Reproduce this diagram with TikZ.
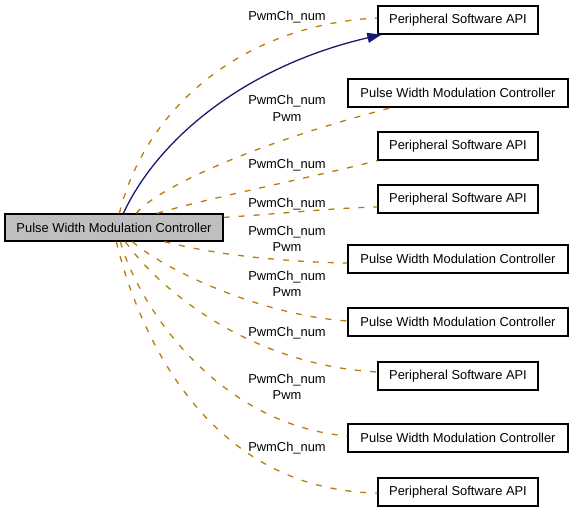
\documentclass[tikz,border=0pt]{standalone}
\usepackage{fontspec}
\setmainfont{Liberation Sans}
\usetikzlibrary{calc,arrows.meta}
\definecolor{edgeorange}{HTML}{B87E08}
\definecolor{edgeblue}{HTML}{191970}
\definecolor{boxgray}{HTML}{BFBFBF}
\begin{document}
\begin{tikzpicture}[x=1pt,y=-1pt,
  every node/.style={font=\fontsize{12.9}{16.7}\selectfont, inner sep=0pt},
  mod/.style={draw=black, line width=1.3pt, fill=white, minimum height=28pt},
  api/.style={mod, minimum width=160pt},
  pwmbox/.style={mod, minimum width=220pt},
  cur/.style={mod, fill=boxgray, minimum width=218pt, minimum height=27pt},
  dep/.style={draw=edgeorange, line width=1.3pt, dash pattern=on 6pt off 9pt},
  use/.style={draw=edgeblue, line width=1.3pt, -{Triangle[length=14pt,width=10pt]}},
  lbl/.style={anchor=base, align=center}]
\useasboundingbox (0,0) rectangle (573,512);

% modules
\node[cur] (main) at (114,227.5) {Pulse Width Modulation Controller};
\node[api]    (m1) at (458,20)  {Peripheral Software API};
\node[pwmbox] (m2) at (458,93)  {Pulse Width Modulation Controller};
\node[api]    (m3) at (458,146) {Peripheral Software API};
\node[api]    (m4) at (458,199) {Peripheral Software API};
\node[pwmbox] (m5) at (458,259) {Pulse Width Modulation Controller};
\node[pwmbox] (m6) at (458,322) {Pulse Width Modulation Controller};
\node[api]    (m7) at (458,376) {Peripheral Software API};
\node[pwmbox] (m8) at (458,438) {Pulse Width Modulation Controller};
\node[api]    (m9) at (458,492) {Peripheral Software API};

% dependency edges
\draw[dep] ($(main.north west)+(115,0)$) .. controls (145,110) and (240,25) .. ($(m1.west)+(0,-2)$);
\draw[dep] ($(main.north west)+(132,0)$) .. controls (150,195) and (230,150) .. ($(m2.south west)+(44,0)$);
\draw[dep] ($(main.north west)+(153,0)$) .. controls (200,200) and (300,180) .. (m3.south west);
\draw[dep] ($(main.north east)+(0,4)$) .. controls (280,214) and (330,208) .. ($(m4.west)+(0,8)$);
\draw[dep] ($(main.south west)+(160,0)$) .. controls (220,256) and (290,262) .. ($(m5.west)+(0,4)$);
\draw[dep] ($(main.south west)+(128,0)$) .. controls (165,270) and (260,315) .. ($(m6.west)+(0,-1)$);
\draw[dep] ($(main.south west)+(121,0)$) .. controls (160,290) and (250,365) .. ($(m7.west)+(0,-4)$);
\draw[dep] ($(main.south west)+(116,0)$) .. controls (140,310) and (220,425) .. ($(m8.west)+(0,-2)$);
\draw[dep] ($(main.south west)+(112,0)$) .. controls (135,320) and (200,490) .. ($(m9.west)+(0,1)$);

% usage edge
\draw[use] ($(main.north west)+(119,0)$) .. controls (160,135) and (250,65) .. ($(m1.south west)+(4,0)$);

% edge labels (base anchor sits on the last line)
\node[lbl] (l1) at (287,20)    {PwmCh\_num};
\node[lbl] (l2) at (287,121)   {PwmCh\_num\\Pwm};
\node[lbl] (l3) at (287,168)   {PwmCh\_num};
\node[lbl] (l4) at (287,207)   {PwmCh\_num};
\node[lbl] (l5) at (287,251.7) {PwmCh\_num\\Pwm};
\node[lbl] (l6) at (287,296.7) {PwmCh\_num\\Pwm};
\node[lbl] (l7) at (287,336)   {PwmCh\_num};
\node[lbl] (l8) at (287,399.7) {PwmCh\_num\\Pwm};
\node[lbl] (l9) at (287,451)   {PwmCh\_num};
\end{tikzpicture}
\end{document}
